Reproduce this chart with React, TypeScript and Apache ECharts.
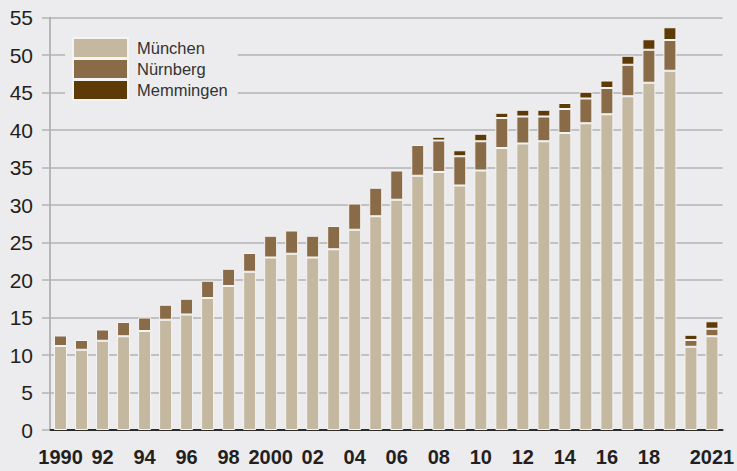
import React, { useEffect, useRef } from "react";
import * as echarts from "echarts";

const years = [
  "1990", "1991", "1992", "1993", "1994", "1995", "1996", "1997", "1998", "1999",
  "2000", "2001", "2002", "2003", "2004", "2005", "2006", "2007", "2008", "2009",
  "2010", "2011", "2012", "2013", "2014", "2015", "2016", "2017", "2018", "2019",
  "2020", "2021",
];

const xTickLabels = [
  "1990", "", "92", "", "94", "", "96", "", "98", "",
  "2000", "", "02", "", "04", "", "06", "", "08", "",
  "10", "", "12", "", "14", "", "16", "", "18", "",
  "", "2021",
];

const muenchen = [
  11.2, 10.7, 11.9, 12.5, 13.2, 14.7, 15.4, 17.6, 19.2, 21.1,
  23.0, 23.5, 23.0, 24.1, 26.7, 28.5, 30.7, 33.9, 34.4, 32.6,
  34.6, 37.6, 38.2, 38.5, 39.6, 40.9, 42.1, 44.5, 46.3, 47.9,
  11.1, 12.5,
];

const nuernberg = [
  1.4, 1.3, 1.5, 1.9, 1.8, 2.0, 2.1, 2.3, 2.3, 2.5,
  2.9, 3.1, 2.9, 3.1, 3.5, 3.8, 3.9, 4.1, 4.2, 3.9,
  3.9, 4.0, 3.6, 3.3, 3.2, 3.3, 3.5, 4.2, 4.4, 4.1,
  0.9, 1.0,
];

const memmingen: (number | string)[] = [
  "-", "-", "-", "-", "-", "-", "-", "-", "-", "-",
  "-", "-", 0.2, "-", "-", "-", "-", "-", 0.5, 0.8,
  1.0, 0.7, 0.9, 0.9, 0.8, 0.9, 1.0, 1.2, 1.4, 1.7,
  0.7, 1.0,
];

const yTicks = { min: 0, max: 55, interval: 5 };

const BG = "#ececee";
const COLORS = { muenchen: "#c4b9a0", nuernberg: "#8a6b47", memmingen: "#5e3a06" };
const GRID_GRAY = "#b3b3b5";

export default function App() {
  const ref = useRef<HTMLDivElement>(null);

  useEffect(() => {
    if (!ref.current) return;
    const chart = echarts.init(ref.current, null, { renderer: "svg" });
    const barBase = {
      type: "bar" as const,
      stack: "total",
      barWidth: 13,
      itemStyle: { borderColor: "#f4f4f4", borderWidth: 1 },
    };
    chart.setOption({
      animation: false,
      backgroundColor: BG,
      textStyle: { fontFamily: "Liberation Sans, Arial, sans-serif" },
      grid: { left: 50, right: 1, top: 17.5, bottom: 41, containLabel: false },
      legend: {
        orient: "vertical",
        left: 65,
        top: 30,
        padding: [7, 10, 7, 7],
        backgroundColor: BG,
        itemWidth: 55,
        itemHeight: 20,
        itemGap: -1,
        icon: "rect",
        z: 10,
        textStyle: {
          fontSize: 16.5,
          lineHeight: 20,
          color: "#333333",
          fontFamily: "Liberation Sans, Arial, sans-serif",
          padding: [0, 0, 0, 4],
        },
        data: ["München", "Nürnberg", "Memmingen"],
      },
      xAxis: {
        type: "category",
        data: years,
        axisLine: { show: true, lineStyle: { color: "#2b2b2b", width: 2 } },
        axisTick: { show: false },
        axisLabel: {
          interval: 0,
          margin: 17,
          fontSize: 20,
          fontWeight: "bold",
          color: "#231f20",
          formatter: (_v: string, i: number) => xTickLabels[i],
        },
        splitLine: { show: false },
      },
      yAxis: {
        type: "value",
        min: yTicks.min,
        max: yTicks.max,
        interval: yTicks.interval,
        axisLine: { show: true, lineStyle: { color: "#a6a6a8", width: 1.5 } },
        axisTick: { show: true, length: 8, lineStyle: { color: GRID_GRAY, width: 1.5 } },
        axisLabel: { margin: 17, fontSize: 21, color: "#231f20" },
        splitLine: { show: true, lineStyle: { color: GRID_GRAY, width: 1.5 } },
      },
      series: [
        { ...barBase, name: "München", data: muenchen, itemStyle: { ...barBase.itemStyle, color: COLORS.muenchen } },
        { ...barBase, name: "Nürnberg", data: nuernberg, itemStyle: { ...barBase.itemStyle, color: COLORS.nuernberg } },
        { ...barBase, name: "Memmingen", data: memmingen, itemStyle: { ...barBase.itemStyle, color: COLORS.memmingen } },
      ],
    });
    return () => chart.dispose();
  }, []);

  return (
    <div style={{ position: "absolute", left: 0, top: 0, width: 737, height: 471, background: BG }}>
      <div ref={ref} style={{ width: 737, height: 471 }} />
    </div>
  );
}
